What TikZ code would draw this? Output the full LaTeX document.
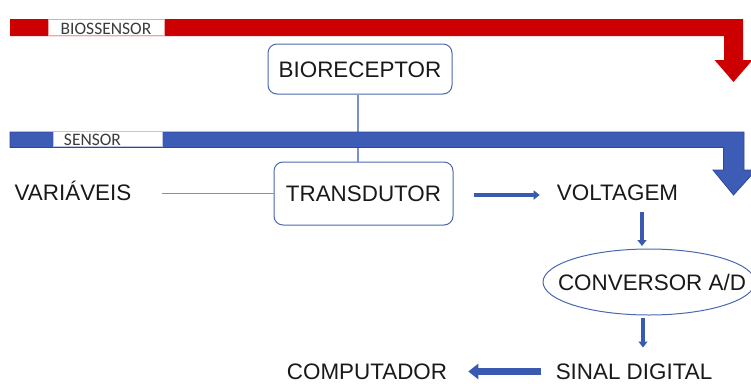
\documentclass[tikz,border=0pt]{standalone}
\usepackage{fontspec}
\setmainfont{Liberation Sans}
\newfontfamily\labfont{Carlito}
\usetikzlibrary{shapes.geometric,arrows.meta}
\definecolor{barred}{RGB}{204,0,0}
\definecolor{barblue}{RGB}{60,92,182}
\definecolor{barblueedge}{RGB}{45,72,150}
\definecolor{boxblue}{RGB}{74,104,176}
\definecolor{lineblue}{RGB}{120,145,205}
\definecolor{arrblue}{RGB}{58,90,178}
\definecolor{txt}{RGB}{25,25,25}
\tikzset{
  maintext/.style={inner sep=0pt, text=txt, font=\fontsize{22.4}{26}\selectfont, text height=16pt, text depth=0pt},
  roundbox/.style={maintext, draw=boxblue, line width=1pt, rounded corners=9pt},
  ellbox/.style={maintext, ellipse, draw=boxblue, line width=1pt},
  barlabel/.style={inner sep=0pt, text=txt!85, font=\labfont\fontsize{17.5}{20}\selectfont, text height=11.5pt, text depth=0pt},
  thinline/.style={draw=lineblue, line width=1.2pt},
  arrsmall/.style={draw=arrblue, line width=3.5pt, -{Triangle[width=9pt,length=6pt]}},
  arrvert/.style={draw=arrblue, line width=4pt, -{Triangle[width=9pt,length=6pt]}},
  arrbig/.style={draw=arrblue, line width=7pt, -{Triangle[width=15pt,length=10pt]}}
}
\begin{document}
\begin{tikzpicture}[x=1pt,y=-1pt]
\useasboundingbox (0,0) rectangle (751,383);

% nodes
\node[roundbox, minimum width=184pt, minimum height=50pt] (bio) at (360,69) {BIORECEPTOR};
\node[roundbox, minimum width=179pt, minimum height=63pt] (trans) at (363.5,193.5) {TRANSDUTOR};
\node[maintext] (var) at (73,192.5) {VARIÁVEIS};
\node[maintext] (volt) at (617.5,192.5) {VOLTAGEM};
\node[ellbox, minimum width=212pt, minimum height=66pt] (conv) at (649,282) {\makebox[0pt]{\hspace*{6pt}CONVERSOR A/D}};
\node[maintext] (sinal) at (634,371.5) {SINAL DIGITAL};
\node[maintext] (comp) at (367,371.5) {COMPUTADOR};

% connector between bioreceptor and transducer (behind blue bar)
\draw[thinline] ([xshift=-2pt]bio.south) -- ([xshift=-2pt]bio.south |- trans.north);

% red bar (BIOSSENSOR)
\fill[barred] (10,19) -- (743,19) -- (743,60) -- (752.5,60) -- (733.5,82) -- (714.5,60) -- (724,60) -- (724,36) -- (10,36) -- cycle;
\filldraw[fill=white, draw=barred!35, line width=0.7pt] (48,19) rectangle (164,35.3);
\node[barlabel] (biolab) at (106,28.5) {BIOSSENSOR};

% blue bar (SENSOR)
\filldraw[fill=barblue, draw=barblueedge, line width=0.8pt, line join=miter] (10,132) -- (744,132) -- (744,170) -- (756,170) -- (733.5,195) -- (713,170) -- (723.5,170) -- (723.5,147.5) -- (10,147.5) -- cycle;
\filldraw[fill=white, draw=barblue!35, line width=0.7pt] (53,131.6) rectangle (162,146.4);
\node[barlabel] (senlab) at (92.5,139.5) {SENSOR};

% connectors
\draw[thinline] ([xshift=30pt]var.east |- trans.west) -- (trans.west);
\draw[arrsmall] ([xshift=20pt,yshift=-1.5pt]trans.east) -- ([xshift=-17pt,yshift=-1.5pt]trans.east -| volt.west);
\draw[arrvert] ([xshift=24.5pt,yshift=-11pt]volt.south) -- ([xshift=-7pt,yshift=2.5pt]conv.north);
\draw[arrvert] ([xshift=-6pt,yshift=-2pt]conv.south) -- ([xshift=-6pt,yshift=-32pt]conv.south);
\draw[arrbig] ([xshift=-15pt]sinal.west) -- ([xshift=21pt]sinal.west -| comp.east);
\end{tikzpicture}
\end{document}
